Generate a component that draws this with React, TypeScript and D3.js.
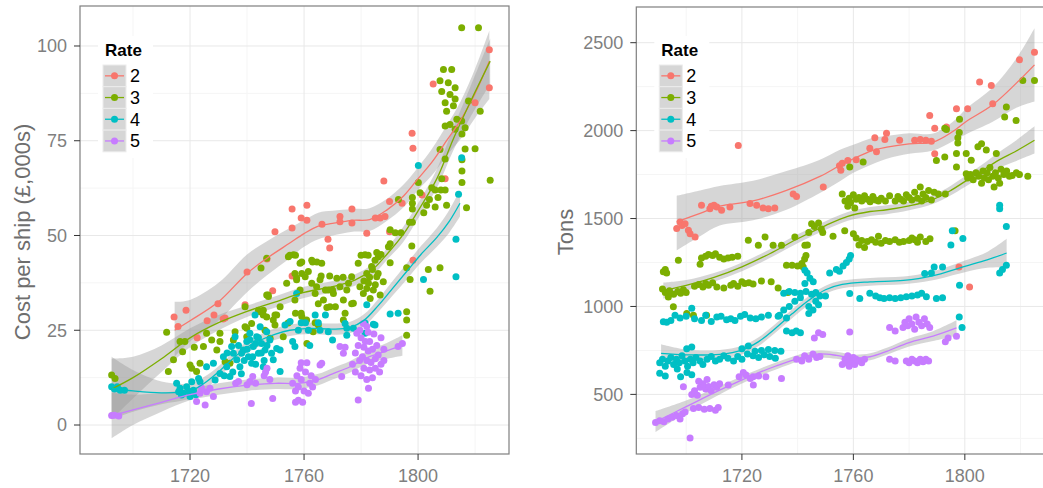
import React from "react";
import * as d3 from "d3";

type Pt = [number, number];
type Sm = [number, number, number, number]; // year, fit, lower, upper

const rates = ["2", "3", "4", "5"];
const rateColors = ["#F8766D", "#7CAE00", "#00BFC4", "#C77CFF"];

const xTickYears = [1720, 1760, 1800];
const xMinorYears = [1700, 1740, 1780, 1820];
const costTicks = [0, 25, 50, 75, 100];
const costMinor = [12.5, 37.5, 62.5, 87.5];
const tonsTicks = [500, 1000, 1500, 2000, 2500];
const tonsMinor = [250, 750, 1250, 1750, 2250];

// ---------- Cost per ship (£,000s) ----------
const costRate2: Pt[] = [
  [1714.4, 28.5], [1715.8, 26], [1718.6, 30.3], [1722.5, 23], [1726, 27.5], [1728.4, 29], [1729.8, 32], [1731.6, 28],
  [1732.3, 28.2], [1739.3, 31.7], [1740, 40.4], [1747, 43.8], [1749, 35.4], [1749.8, 51], [1755.8, 57], [1755.8, 52],
  [1755.8, 39.3], [1759, 54.6], [1761, 58], [1761, 54], [1766.3, 53], [1768.4, 49], [1769, 46.7], [1772.6, 55],
  [1772.6, 53.6], [1776.8, 57], [1776.8, 53.3], [1782, 50.6], [1785, 54.6], [1786.7, 54.6], [1788.4, 55], [1788, 64.4],
  [1790, 51], [1790, 59], [1794.4, 58.5], [1797.9, 77], [1798.2, 73], [1798.2, 43.5], [1801.4, 60.7], [1805.3, 90],
  [1809.5, 65], [1820, 85], [1825, 99], [1825, 89],
];
const costRate3: Pt[] = [
  [1692.5, 13.2], [1693.7, 12.3], [1711.8, 24.5], [1712.4, 14.1], [1714.2, 17.2], [1716.5, 22], [1718.2, 22], [1717.4, 19.3],
  [1720, 15.8], [1720.6, 15], [1721.5, 20.5], [1722.3, 14.1], [1723.5, 16.3], [1724.7, 20.7], [1725.8, 24.2], [1727.6, 22.4],
  [1729.4, 19.8], [1730.5, 24.2], [1730.5, 22], [1732.3, 16.7], [1734, 16.3], [1735.2, 22.4], [1735.8, 24.6], [1739.3, 31.2],
  [1739.3, 25.9], [1739.9, 23.3], [1739.9, 25.5], [1741.6, 26.8], [1744, 30.3], [1744.6, 29.9], [1744.9, 41.4], [1745.7, 30.3],
  [1745.7, 29], [1746.3, 25], [1746.9, 34.3], [1746.9, 44], [1746.9, 28.5], [1747.4, 34.3], [1747.5, 33.9], [1748.1, 22.9],
  [1749.2, 27.7], [1749.8, 29], [1749.8, 26.4], [1750.4, 29], [1751.6, 31.2], [1752.7, 23.3], [1753.9, 37.4], [1754.4, 26.9],
  [1754.5, 44.4], [1755, 44.8], [1756.3, 44.9], [1756.8, 33], [1756.8, 40], [1757, 44.8], [1757.4, 38.3], [1757.4, 38.8],
  [1757, 29.5], [1758.6, 42.7], [1758.6, 35.6], [1759, 29.5], [1759.2, 40], [1759.2, 43], [1759.2, 28.6], [1760.4, 39.1],
  [1760.4, 27.3], [1760.9, 27.7], [1761, 21.5], [1761.5, 40.5], [1762.7, 43.5], [1762.7, 37.4], [1763, 43], [1763.2, 24.6],
  [1763.9, 34.7], [1763.9, 27], [1764.4, 36.5], [1764.5, 43], [1765, 26.4], [1765.6, 38.3], [1765, 32], [1766, 39.3],
  [1766.2, 42.7], [1766.8, 33], [1767.5, 35.6], [1768, 31], [1768.5, 35.6], [1769, 39.3], [1769.1, 31.2], [1770, 35.6],
  [1770.3, 34.7], [1771, 31.2], [1771.5, 38.7], [1772.6, 36.5], [1773.7, 39], [1773.8, 33], [1773.8, 27.7], [1774.4, 29.5],
  [1775, 35.6], [1775.6, 37.4], [1776.7, 39.1], [1776.7, 32], [1777.3, 32.1], [1779, 42.7], [1779.6, 36.5], [1780, 44.8],
  [1780.8, 34.7], [1781.4, 44.9], [1781, 38], [1782, 40], [1782, 36], [1782.5, 44.8], [1782.6, 37.4], [1783, 39],
  [1783.2, 33.4], [1783.7, 41.8], [1784, 41], [1784.3, 35.6], [1784.9, 43.5], [1785, 37], [1785.5, 39.1], [1785.5, 45.5],
  [1786, 40], [1786.1, 44.4], [1786.7, 34.3], [1787, 45], [1787.8, 37.8], [1789.6, 47], [1790.2, 51.5], [1790.2, 47.8],
  [1790.2, 42.8], [1792, 50.7], [1793.1, 59.5], [1794, 50.7], [1796, 29.9], [1796, 27.7], [1796, 23.7], [1796, 41.5],
  [1797.2, 38.4], [1797.8, 47.2], [1797, 53.5], [1798, 53.5], [1798, 57], [1798, 58.5], [1798, 60], [1800.1, 64],
  [1800.7, 61.3], [1802, 56], [1803, 58], [1803.6, 41], [1804, 59.5], [1804.2, 35.3], [1804.8, 62.6], [1806, 62],
  [1806, 57.5], [1807, 60], [1807.7, 41.5], [1807.7, 72.7], [1808, 62], [1808.3, 65], [1809.5, 62], [1809.5, 70.2],
  [1810, 58], [1809.5, 78.9], [1809.5, 85], [1810, 82.8], [1807.7, 90.8], [1808.3, 88], [1808.9, 93.8], [1810.6, 90.3],
  [1811.2, 87.2], [1811.2, 79.3], [1811.8, 93.8], [1812.4, 84.2], [1813, 89], [1813, 86], [1813, 78], [1813.6, 80.7],
  [1815.3, 80.2], [1815.4, 76.8], [1816.5, 78.4], [1816.5, 72.8], [1815.4, 70], [1815.4, 67], [1815.4, 64], [1817, 57.3],
  [1817.7, 85.5], [1820, 72.9], [1821.8, 82.8], [1825.3, 64.6], [1815.3, 104.8], [1821.2, 104.8],
];
const costRate4: Pt[] = [
  [1692.5, 10.1], [1693.5, 9.5], [1694.5, 10.1], [1695.5, 9.2], [1697, 9.2], [1715.3, 11], [1716, 8.8], [1716.5, 9.7],
  [1717, 7.9], [1717.7, 8.4], [1718.8, 10.1], [1719.5, 9], [1720, 7.5], [1720.6, 11.4], [1721.2, 9.2], [1722, 8],
  [1723, 12.3], [1723.5, 11.4], [1725.8, 15.4], [1728.2, 16.3], [1728.8, 11.9], [1730.5, 13.6], [1731.7, 18], [1732.9, 15.4],
  [1732, 13], [1733, 19], [1734, 12.8], [1734.6, 20.7], [1735, 14], [1735.2, 18.9], [1735.8, 23.3], [1736.4, 17.2],
  [1737, 21], [1737.5, 15.4], [1738, 13.5], [1738.1, 18.9], [1738.7, 19.8], [1739, 17], [1739.9, 22], [1740, 20],
  [1740.5, 18], [1741, 24.2], [1741, 22.5], [1741.6, 16.3], [1742, 18], [1742.2, 20.7], [1742.8, 29], [1743, 21.5],
  [1743, 16], [1743.4, 23.3], [1744, 18.9], [1744, 23], [1744.6, 25.9], [1745, 19], [1745.1, 21.5], [1745.7, 15.4],
  [1746, 17], [1746.3, 19.8], [1746.9, 24.6], [1747, 21], [1748, 22.4], [1748.6, 18.9], [1749.2, 17.2], [1750.4, 20.2],
  [1751.6, 14.1], [1751.6, 19.8], [1753.3, 26.4], [1755.1, 27.3], [1756, 22], [1756.8, 20.7], [1757.4, 34.7], [1758, 25],
  [1759, 27], [1760.5, 27], [1761.5, 25], [1762, 21], [1763.9, 29], [1765, 27], [1765.6, 25], [1767.5, 29],
  [1768.5, 24.6], [1770, 22.4], [1774.4, 26.8], [1775, 23.7], [1775, 25.5], [1777.3, 25.5], [1781.4, 24.2], [1781.4, 26.9],
  [1782, 31.7], [1784.3, 26.6], [1784.9, 26.4], [1790.2, 29.3], [1793, 29.5], [1800.1, 68.5], [1801.9, 38.4], [1813.3, 49],
  [1813.3, 39.1], [1814.2, 60.9], [1815.3, 70.5],
];
const costRate5: Pt[] = [
  [1692.5, 2.5], [1693.5, 2.6], [1695, 2.4], [1722.3, 6.2], [1723.5, 8.4], [1724, 9.8], [1725.3, 5.3], [1725.8, 8.8],
  [1727, 9.7], [1728.2, 7.5], [1736, 11], [1737, 11.5], [1740, 10.6], [1741, 11.5], [1742, 12.8], [1743, 11],
  [1741.5, 5.7], [1746, 13], [1747, 15], [1748, 12], [1746.5, 14], [1749, 7], [1756, 11], [1757, 9],
  [1757.5, 13], [1758, 10], [1758.6, 15], [1759, 12], [1759, 16.4], [1760, 9], [1760.5, 14], [1761, 16.4],
  [1761.5, 8.4], [1762, 11], [1762.5, 13], [1763, 10], [1764, 12], [1757, 6], [1758, 6.5], [1759.5, 6],
  [1766.2, 16.3], [1765.6, 15.8], [1772.6, 20.7], [1773.2, 12.8], [1773.8, 18.9], [1774.4, 20.5], [1779, 6.6], [1779.6, 25],
  [1782.5, 24.5], [1780.8, 26.8], [1782, 26], [1778.5, 24.2], [1782.6, 9.7], [1777, 16], [1778, 14], [1778, 19],
  [1779, 21], [1779.5, 17], [1780, 13], [1780, 23], [1780.5, 18], [1781, 15], [1781, 20.5], [1781.5, 22],
  [1782, 12], [1782, 17], [1782.5, 19.5], [1783, 14.5], [1783, 22], [1783.5, 16.5], [1784, 20], [1784, 12.5],
  [1784.5, 24], [1785, 17.5], [1785, 15], [1785.5, 21], [1786, 18.5], [1786.5, 14], [1787, 16], [1787, 23],
  [1788, 17], [1788, 20], [1793, 20.7], [1794.5, 21.5],
];
const costSmooth2: Sm[] = [
  [1714.6, 25, 18, 32.5], [1720, 27.5, 22, 33], [1730, 32.5, 27.5, 37.5], [1740, 40, 35, 45], [1747, 44, 39.5, 48.5],
  [1755, 48, 44, 52], [1760, 50.5, 47, 54], [1765, 52.5, 49, 56], [1770, 53.2, 50, 56.5], [1777, 54, 51, 57],
  [1783, 54.2, 51.2, 57.2], [1789, 56.7, 53.8, 59.6], [1795, 60.5, 57.5, 63.5], [1800, 65, 62, 68], [1805, 69.5, 66, 73],
  [1810, 75, 71, 79], [1815, 80.5, 75.5, 85.5], [1820, 87.5, 81, 94], [1825, 96, 86, 104],
];
const costSmooth3: Sm[] = [
  [1692.5, 9.5, 1.5, 17.5], [1700, 12.5, 7, 18], [1710, 17.5, 14, 21], [1720, 23, 20.5, 25.5], [1730, 27, 25, 29],
  [1740, 30, 28.5, 31.5], [1750, 32.5, 31, 34], [1760, 35, 33.5, 36.5], [1770, 36.5, 35, 38], [1778, 38.3, 36.8, 39.8],
  [1784, 41, 39.5, 42.5], [1789, 45, 43.5, 46.5], [1795, 50.5, 48.5, 52.5], [1800, 56.5, 54.5, 58.5], [1806.6, 65, 62.5, 67.5],
  [1812.4, 75.5, 72.5, 78.5], [1818.2, 85, 81, 89], [1825.3, 96, 90, 102],
];
const costSmooth4: Sm[] = [
  [1692.5, 9.7, 1.5, 18], [1700, 9, 3.5, 14.5], [1710, 8.5, 5.5, 11.5], [1720, 9, 7, 11], [1725, 11, 9.3, 12.7],
  [1730, 14, 12.5, 15.5], [1735, 17.5, 16, 19], [1740, 20.5, 19, 22], [1745, 22.5, 21, 24], [1750, 24, 22.5, 25.5],
  [1755, 25, 23.5, 26.5], [1762, 25.5, 24, 27], [1770, 25.3, 23.8, 26.8], [1776, 25.7, 24.2, 27.2], [1781, 27.6, 26, 29.2],
  [1786, 31.5, 29.8, 33.2], [1791, 36, 34.1, 37.9], [1796, 40.5, 38.4, 42.6], [1801, 45, 42.8, 47.2], [1806.6, 49.5, 47, 52],
  [1811, 53.8, 50.8, 56.8], [1814.7, 58.5, 55, 62],
];
const costSmooth5: Sm[] = [
  [1692.5, 2.5, -3.5, 8.5], [1700, 4, 0, 8], [1710, 6, 3.5, 8.5], [1720, 8, 6.5, 9.5], [1730, 9.5, 8, 11],
  [1740, 10.5, 9, 12], [1750, 11, 9.5, 12.5], [1758, 11, 9.5, 12.5], [1765, 12, 10.5, 13.5], [1770, 13.5, 12, 15],
  [1776, 15.3, 13.8, 16.8], [1782, 17.7, 16, 19.4], [1788, 19.3, 17.3, 21.3], [1794.5, 21, 18.3, 23.7],
];

// ---------- Tons ----------
const tonsRate2: Pt[] = [
  [1696.6, 1443], [1697.8, 1481], [1698.5, 1460], [1699.6, 1471], [1700.8, 1433], [1701.4, 1414], [1703.2, 1395],
  [1705.5, 1575], [1708.5, 1556], [1709, 1570], [1710, 1575], [1711, 1565], [1712.7, 1547], [1715.7, 1566], [1718.7, 1916],
  [1722.9, 1585], [1725.3, 1575], [1727.6, 1560], [1729.5, 1555], [1731.8, 1560], [1738.4, 1640], [1739.6, 1625],
  [1749.2, 1680], [1755, 1800], [1755.5, 1775], [1756, 1815], [1758, 1830], [1761, 1835], [1765.9, 1900], [1767.7, 1960],
  [1768.3, 1880], [1771.3, 1950], [1771.9, 1985], [1776.6, 1945], [1782, 1945], [1784, 1950], [1786, 1945], [1788, 1940],
  [1787.4, 2086], [1789.2, 1869], [1789.2, 2014], [1793.4, 2020], [1797, 2124], [1801, 2124], [1797.9, 1225], [1801.7, 1111],
  [1805.3, 2276], [1809.5, 2257], [1810, 2153], [1819.6, 2403], [1825, 2446],
];
const tonsRate3: Pt[] = [
  [1691.8, 1197], [1692.5, 1210], [1693, 1190], [1697.2, 1263], [1693.6, 1054], [1695.4, 998], [1700.2, 960], [1702.6, 950],
  [1707.3, 950], [1691.5, 1100], [1692.5, 1080], [1694, 1090], [1695.5, 1070], [1697, 1085], [1698, 1075], [1699, 1095],
  [1700, 1080], [1703, 1115], [1704.5, 1125], [1706, 1110], [1707, 1130], [1708, 1120], [1709.5, 1135], [1711, 1110],
  [1713.5, 1105], [1716, 1120], [1717, 1130], [1718.5, 1115], [1720, 1140], [1721, 1130], [1722.5, 1135], [1724, 1128],
  [1727, 1145], [1730.5, 1140], [1733, 1105], [1736.5, 1080], [1705, 1240], [1705.5, 1275], [1707, 1285], [1708, 1295],
  [1709.5, 1290], [1710.5, 1300], [1712, 1280], [1713.5, 1270], [1715, 1275], [1716.5, 1280], [1718.5, 1285], [1722.3, 1376],
  [1725.9, 1348], [1728.3, 1395], [1731.2, 1348], [1734.2, 1348], [1739, 1395], [1742.6, 1348], [1736, 1235], [1738, 1235],
  [1740, 1230], [1741.5, 1245], [1742.5, 1270], [1743, 1290], [1742, 1225], [1744, 1420], [1745, 1470], [1746, 1455],
  [1747.5, 1475], [1748.5, 1440], [1749, 1420], [1752.7, 1400], [1756.9, 1430], [1760, 1414], [1743.5, 1350], [1758.7, 1793],
  [1763.5, 1821], [1756, 1640], [1757, 1600], [1758, 1570], [1758.5, 1615], [1759, 1590], [1760, 1635], [1760.5, 1560],
  [1761, 1610], [1762, 1620], [1763, 1600], [1764, 1630], [1765, 1610], [1766, 1595], [1767, 1625], [1768, 1605],
  [1769, 1600], [1770, 1615], [1771.5, 1600], [1773, 1630], [1775, 1600], [1776, 1625], [1777, 1610], [1778, 1600],
  [1779, 1635], [1780, 1620], [1781, 1605], [1782, 1650], [1783, 1615], [1784, 1680], [1784.5, 1600], [1785, 1640],
  [1786, 1620], [1787, 1660], [1788, 1605], [1789, 1650], [1790.5, 1640], [1793, 1640], [1761, 1390], [1762, 1350],
  [1763, 1375], [1764, 1335], [1765, 1370], [1766.5, 1380], [1768, 1365], [1769, 1400], [1770, 1360], [1771.5, 1375],
  [1773, 1370], [1775, 1380], [1776.5, 1365], [1778, 1370], [1780, 1375], [1781, 1390], [1782, 1380], [1783, 1365],
  [1784, 1395], [1786, 1370], [1787.5, 1385], [1789.8, 1830], [1792.8, 1850], [1792.8, 2014], [1797, 1870], [1797.5, 1930],
  [1798, 1990], [1797.5, 1960], [1798.1, 2064], [1793.4, 2007], [1797, 1793], [1800.5, 1755], [1800.5, 1870], [1802.3, 1831],
  [1804.7, 1908], [1806, 1925], [1807.7, 1890], [1811.3, 1870], [1801, 1730], [1802, 1750], [1803, 1720], [1804, 1760],
  [1805, 1740], [1806, 1700], [1806.5, 1770], [1807, 1730], [1808, 1760], [1808.5, 1720], [1809, 1790], [1810, 1740],
  [1810.5, 1680], [1811, 1760], [1812, 1730], [1812.5, 1700], [1813, 1780], [1814, 1750], [1815, 1770], [1816, 1740],
  [1817, 1745], [1818.5, 1760], [1819.6, 1750], [1822.6, 1740], [1814.9, 2134], [1814.3, 2077], [1818.4, 2058],
  [1820.8, 2285], [1825, 2285], [1796.5, 1430],
];
const tonsRate4: Pt[] = [
  [1691.8, 913], [1693, 910], [1694.5, 920], [1696, 950], [1697.8, 935], [1700, 945], [1702, 990], [1703, 930],
  [1705.5, 920], [1707, 950], [1709, 915], [1711, 940], [1712.5, 945], [1714.5, 925], [1716, 930], [1717.5, 920],
  [1719.5, 945], [1721, 955], [1723, 935], [1725, 930], [1727, 940], [1729.5, 950], [1733, 945], [1736, 935],
  [1690.5, 680], [1691.5, 700], [1692.5, 660], [1693.5, 690], [1694.5, 710], [1695.5, 670], [1696.5, 700], [1697.5, 680],
  [1698.5, 720], [1699.5, 690], [1700.5, 660], [1701.5, 700], [1702.5, 680], [1703.5, 710], [1705, 690], [1706, 670],
  [1707.5, 700], [1709, 715], [1710.5, 690], [1712, 700], [1713.5, 720], [1715, 705], [1717, 690], [1718.5, 715],
  [1720, 700], [1722, 730], [1724, 720], [1726, 710], [1728, 725], [1730, 715], [1732, 705], [1690.5, 620],
  [1692.5, 605], [1696.8, 645], [1700.3, 625], [1702, 612], [1698, 600], [1700.2, 760], [1702, 770], [1720, 760],
  [1722.3, 775], [1724.7, 745], [1727, 750], [1729.5, 755], [1731.8, 750], [1734, 745], [1736, 860], [1738, 850],
  [1739.5, 860], [1741, 850], [1733.5, 950], [1735, 980], [1737, 1000], [1739, 1030], [1741, 1050], [1735, 1075],
  [1737, 1085], [1739, 1080], [1741, 1075], [1743, 1085], [1745, 1070], [1746.5, 1080], [1748, 1060], [1750, 1060],
  [1742.6, 1130], [1744.4, 1160], [1743.4, 1190], [1745.6, 1140], [1744, 1000], [1745.5, 980], [1746.5, 1030], [1747.5, 1010],
  [1744, 960], [1742.6, 1206], [1751.5, 1190], [1753.9, 1210], [1756.3, 1230], [1757.5, 1250], [1758.5, 1270], [1759, 1290],
  [1755, 1200], [1758.7, 1074], [1762.3, 1045], [1765.9, 1075], [1768, 1060], [1769.5, 1050], [1771, 1045], [1773, 1050],
  [1775, 1045], [1777, 1050], [1779, 1055], [1781, 1060], [1783, 1065], [1784.5, 1075], [1786.2, 1055], [1789.8, 1045],
  [1792, 1050], [1789, 1225], [1792, 1225], [1785.6, 1187], [1788, 1190], [1795, 1350], [1795.5, 1430], [1799.3, 1386],
  [1798.1, 1121], [1798, 940], [1799, 880], [1812.5, 1555], [1812.5, 1575], [1814.9, 1455], [1812.5, 1190], [1813.5, 1210],
  [1814.9, 1235],
];
const tonsRate5: Pt[] = [
  [1689, 340], [1690.5, 350], [1692, 345], [1693.5, 360], [1695, 370], [1696.5, 380], [1697.8, 360], [1698.7, 390],
  [1699.6, 400], [1699, 543], [1701.4, 252], [1702, 500], [1703, 520], [1704, 495], [1705, 540], [1706, 560],
  [1707, 530], [1708, 545], [1709, 520], [1710, 555], [1711, 540], [1712, 560], [1704.5, 575], [1707.5, 585],
  [1702.6, 420], [1704.5, 425], [1706.5, 415], [1708.5, 420], [1710.5, 410], [1711.5, 425], [1715.1, 553], [1719, 600],
  [1721.5, 610], [1724.1, 553], [1724, 600], [1726, 605], [1728.6, 600], [1734.2, 590], [1720.5, 625], [1723, 590],
  [1739.6, 700], [1741.5, 690], [1742.5, 720], [1744, 700], [1745.5, 730], [1746.8, 710], [1748, 715], [1746, 820],
  [1747.5, 850], [1749, 840], [1758.7, 855], [1756, 670], [1757, 700], [1757.5, 680], [1758, 720], [1758.5, 660],
  [1759, 690], [1760, 710], [1760.5, 670], [1761, 700], [1762, 690], [1763, 680], [1764, 700], [1773, 700],
  [1775, 690], [1773, 880], [1775, 860], [1777.8, 880], [1778.5, 910], [1779.5, 890], [1780, 930], [1781, 900],
  [1782, 870], [1782.5, 940], [1783.5, 910], [1784.5, 890], [1785.5, 930], [1786.5, 900], [1787.4, 880], [1779, 690],
  [1780, 680], [1781, 700], [1782, 690], [1783, 680], [1784, 700], [1785, 685], [1786, 700], [1787, 690],
  [1793, 800], [1794, 820], [1797, 830],
];
const tonsSmooth2: Sm[] = [
  [1696.6, 1481, 1320, 1630], [1705, 1530, 1400, 1660], [1712, 1570, 1460, 1685], [1724, 1600, 1490, 1715],
  [1736, 1660, 1550, 1770], [1748, 1740, 1645, 1835], [1755, 1800, 1710, 1890], [1760, 1840, 1760, 1920],
  [1767, 1888, 1810, 1960], [1772, 1906, 1840, 1970], [1780, 1925, 1868, 1985], [1788.6, 1935, 1887, 1983],
  [1795.7, 1995, 1940, 2050], [1800.5, 2052, 1980, 2125], [1810, 2147, 2050, 2245], [1818.5, 2270, 2130, 2410],
  [1825, 2374, 2166, 2582],
];
const tonsSmooth3: Sm[] = [
  [1691.8, 1090, 1045, 1135], [1700, 1120, 1090, 1150], [1710, 1165, 1140, 1190], [1720, 1225, 1200, 1250],
  [1730, 1300, 1275, 1325], [1740, 1385, 1360, 1410], [1750, 1460, 1435, 1485], [1758, 1512, 1487, 1537],
  [1766, 1540, 1515, 1565], [1772, 1550, 1525, 1575], [1780, 1572, 1547, 1597], [1788, 1605, 1580, 1630],
  [1795, 1660, 1633, 1687], [1800, 1710, 1680, 1740], [1806, 1770, 1735, 1805], [1812.5, 1835, 1790, 1880],
  [1818, 1880, 1825, 1940], [1825, 1945, 1870, 2025],
];
const tonsSmooth4: Sm[] = [
  [1691, 733, 685, 785], [1700, 725, 695, 755], [1712, 728, 703, 753], [1720, 752, 727, 777], [1726, 800, 775, 825],
  [1732, 875, 850, 900], [1738, 958, 933, 983], [1744, 1035, 1010, 1060], [1750, 1095, 1072, 1118], [1756, 1125, 1103, 1147],
  [1766, 1140, 1118, 1162], [1778, 1148, 1126, 1170], [1788, 1172, 1147, 1197], [1800, 1228, 1195, 1261],
  [1808, 1265, 1220, 1310], [1815, 1304, 1225, 1385],
];
const tonsSmooth5: Sm[] = [
  [1689, 344, 285, 405], [1700, 430, 395, 465], [1712, 524, 500, 548], [1724, 610, 590, 630], [1732, 660, 640, 680],
  [1742, 714, 695, 733], [1748, 730, 710, 750], [1754, 722, 702, 742], [1760, 706, 686, 726], [1766, 714, 694, 734],
  [1772, 745, 725, 765], [1780, 795, 772, 818], [1788.6, 831, 803, 859], [1797, 878, 835, 921],
];

const FONT = "'Liberation Sans', Arial, Helvetica, sans-serif";

type PanelProps = {
  xRange: [number, number];
  yRange: [number, number];
  xDomain: [number, number];
  yDomain: [number, number];
  yTicks: number[];
  yMinor: number[];
  title: string;
  titleX: number;
  points: Pt[][];
  smooths: Sm[][];
};

function Panel(p: PanelProps) {
  const x = d3.scaleLinear().domain(p.xDomain).range(p.xRange);
  const y = d3.scaleLinear().domain(p.yDomain).range(p.yRange);
  const [x0, x1] = p.xRange;
  const [yb, yt] = p.yRange;
  const area = d3
    .area<Sm>()
    .x((d) => x(d[0]))
    .y0((d) => y(d[2]))
    .y1((d) => y(d[3]))
    .curve(d3.curveCatmullRom.alpha(0.5));
  const line = d3
    .line<Sm>()
    .x((d) => x(d[0]))
    .y((d) => y(d[1]))
    .curve(d3.curveCatmullRom.alpha(0.5));
  const lx = x0 + 23;
  const keyTop = 65;
  const keyH = 21.7;
  return (
    <g>
      <rect x={x0} y={yt} width={x1 - x0} height={yb - yt} fill="#ffffff" />
      {xMinorYears.map((v) => (
        <line key={"xm" + v} x1={x(v)} x2={x(v)} y1={yt} y2={yb} stroke="#f5f5f5" strokeWidth={1} />
      ))}
      {p.yMinor.map((v) => (
        <line key={"ym" + v} x1={x0} x2={x1} y1={y(v)} y2={y(v)} stroke="#f5f5f5" strokeWidth={1} />
      ))}
      {xTickYears.map((v) => (
        <line key={"xg" + v} x1={x(v)} x2={x(v)} y1={yt} y2={yb} stroke="#e8e8e8" strokeWidth={1} />
      ))}
      {p.yTicks.map((v) => (
        <line key={"yg" + v} x1={x0} x2={x1} y1={y(v)} y2={y(v)} stroke="#e8e8e8" strokeWidth={1} />
      ))}
      {p.smooths.map((s, i) => (
        <path key={"rb" + i} d={area(s) || ""} fill="#999999" fillOpacity={0.4} stroke="none" />
      ))}
      {p.points.map((pts, i) => (
        <g key={"pts" + i} fill={rateColors[i]}>
          {pts.map((d, j) => (
            <circle key={j} cx={x(d[0])} cy={y(d[1])} r={3.5} />
          ))}
        </g>
      ))}
      {p.smooths.map((s, i) => (
        <path key={"ln" + i} d={line(s) || ""} fill="none" stroke={rateColors[i]} strokeWidth={1.3} />
      ))}
      <rect x={x0} y={yt} width={x1 - x0} height={yb - yt} fill="none" stroke="#7f7f7f" strokeWidth={1.2} />
      {p.yTicks.map((v) => (
        <g key={"yt" + v}>
          <line x1={x0 - 6} x2={x0} y1={y(v)} y2={y(v)} stroke="#333333" strokeWidth={1} />
          <text x={x0 - 13} y={y(v)} dy="0.35em" textAnchor="end" fontSize={18} fill="#7f7f7f" fontFamily={FONT}>
            {v}
          </text>
        </g>
      ))}
      {xTickYears.map((v) => (
        <g key={"xt" + v}>
          <line x1={x(v)} x2={x(v)} y1={yb} y2={yb + 6} stroke="#333333" strokeWidth={1} />
          <text x={x(v)} y={482} textAnchor="middle" fontSize={18} fill="#7f7f7f" fontFamily={FONT}>
            {v}
          </text>
        </g>
      ))}
      <text
        x={p.titleX}
        y={232}
        transform={`rotate(-90, ${p.titleX}, 232)`}
        textAnchor="middle"
        dy="0.35em"
        fontSize={22}
        fill="#6e6e6e"
        fontFamily={FONT}
      >
        {p.title}
      </text>
      <rect x={lx - 5} y={36} width={55} height={122} fill="#ffffff" />
      <text x={lx + 2} y={56} fontSize={17} fontWeight="bold" fill="#000" fontFamily={FONT}>
        Rate
      </text>
      {rates.map((r, i) => {
        const ky = keyTop + i * keyH;
        return (
          <g key={"lg" + r}>
            <rect x={lx} y={ky} width={23} height={keyH} fill="#d6d6d6" stroke="#ececec" strokeWidth={1} />
            <line x1={lx + 2} x2={lx + 21} y1={ky + keyH / 2} y2={ky + keyH / 2} stroke={rateColors[i]} strokeWidth={1.3} />
            <circle cx={lx + 11.5} cy={ky + keyH / 2} r={3.5} fill={rateColors[i]} />
            <text x={lx + 27} y={ky + keyH / 2} dy="0.36em" fontSize={18} fill="#000" fontFamily={FONT}>
              {r}
            </text>
          </g>
        );
      })}
    </g>
  );
}

export default function App() {
  return (
    <svg
      width={1043}
      height={488}
      style={{ position: "absolute", left: 0, top: 0, display: "block", background: "#ffffff" }}
    >
      <rect x={0} y={0} width={1043} height={488} fill="#ffffff" />
      <Panel
        xRange={[80, 509]}
        yRange={[454, 6]}
        xDomain={[1681.4, 1831.9]}
        yDomain={[-7.65, 110.55]}
        yTicks={costTicks}
        yMinor={costMinor}
        title="Cost per ship (£,000s)"
        titleX={22}
        points={[costRate2, costRate3, costRate4, costRate5]}
        smooths={[costSmooth2, costSmooth3, costSmooth4, costSmooth5]}
      />
      <Panel
        xRange={[636.3, 1054]}
        yRange={[454, 7]}
        xDomain={[1682.1, 1832]}
        yDomain={[161, 2703]}
        yTicks={tonsTicks}
        yMinor={tonsMinor}
        title="Tons"
        titleX={565}
        points={[tonsRate2, tonsRate3, tonsRate4, tonsRate5]}
        smooths={[tonsSmooth2, tonsSmooth3, tonsSmooth4, tonsSmooth5]}
      />
    </svg>
  );
}
